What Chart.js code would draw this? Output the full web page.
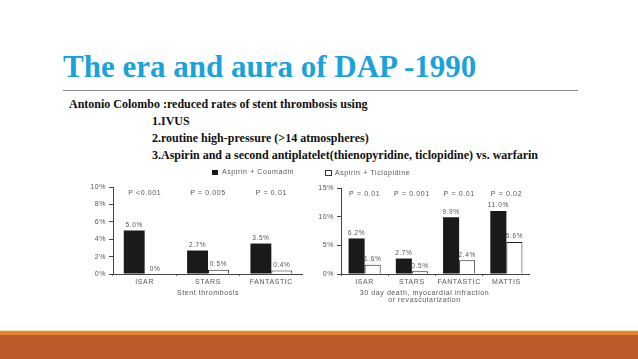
<!DOCTYPE html>
<html>
<head>
<meta charset="utf-8">
<script src="https://cdn.jsdelivr.net/npm/chart.js@4.4.1/dist/chart.umd.min.js"></script>
<style>
  body { margin: 0; width: 638px; height: 359px; background: #fff; position: relative; overflow: hidden; }
  .abs { position: absolute; white-space: nowrap; }
  #title { left: 63px; top: 51px; font: bold 31px/31px "Liberation Serif", "Times New Roman", serif; color: #1aa2dc; }
  #rule { left: 63px; top: 90px; width: 515px; height: 1px; background: #8a8a8a; }
  .sub { font: bold 12px/17px "Liberation Serif", "Times New Roman", serif; color: #111; }
  canvas { position: absolute; }
</style>
</head>
<body>
<div id="title" class="abs">The era and aura of DAP -1990</div>
<div id="rule" class="abs"></div>
<div class="abs sub" style="left:69px; top:96px;">Antonio Colombo :reduced rates of stent thrombosis using</div>
<div class="abs sub" style="left:152px; top:113px;">1.IVUS</div>
<div class="abs sub" style="left:152px; top:130px;">2.routine high-pressure (&gt;14 atmospheres)</div>
<div class="abs sub" style="left:152px; top:147px;">3.Aspirin and a second antiplatelet(thienopyridine, ticlopidine) vs. warfarin</div>

<canvas id="leftChart" width="220" height="140" style="left:83px; top:165px;"></canvas>
<canvas id="rightChart" width="219" height="140" style="left:311px; top:165px;"></canvas>

<!-- bottom band -->
<div class="abs" style="left:0; top:330px; width:638px; height:1px; background:#f3e3b5;"></div>
<div class="abs" style="left:0; top:331px; width:638px; height:4px; background:#e5852c;"></div>
<div class="abs" style="left:0; top:335px; width:638px; height:24px; background:#bf5a2b;"></div>

<script>
/*************** data ***************/
const leftCategories = ["ISAR", "STARS", "FANTASTIC"];
const leftCoumadin = [5.0, 2.7, 3.5];
const leftTiclopidine = [0, 0.5, 0.4];
const leftPValues = ["P <0.001", "P = 0.005", "P = 0.01"];
const leftTicks = [0, 2, 4, 6, 8, 10];
const leftTitle = ["Stent thrombosis"];

const rightCategories = ["ISAR", "STARS", "FANTASTIC", "MATTIS"];
const rightCoumadin = [6.2, 2.7, 9.9, 11.0];
const rightTiclopidine = [1.6, 0.5, 2.4, 5.6];
const rightPValues = ["P = 0.01", "P = 0.001", "P = 0.01", "P = 0.02"];
const rightTicks = [0, 5, 10, 15];
const rightTitle = ["30 day death, myocardial infraction", "or revascularization"];

const FAMILY = '"Liberation Sans", Arial, sans-serif';
const GREY = "#555";

/*************** labels plugin ***************/
const annotate = {
  id: "annotate",
  beforeDraw(chart) {
    chart.ctx.letterSpacing = "0.6px";
  },
  afterDraw(chart, args, opts) {
    const ctx = chart.ctx;
    const area = chart.chartArea;
    const xs = chart.scales.x;
    ctx.save();
    ctx.fillStyle = GREY;
    ctx.textAlign = "center";

    // value labels on top of the bars
    ctx.textBaseline = "bottom";
    ctx.font = "6.5px " + FAMILY;
    chart.data.datasets.forEach((ds, di) => {
      chart.getDatasetMeta(di).data.forEach((bar, i) => {
        const v = ds.data[i];
        ctx.fillText(v === 0 ? "0%" : v.toFixed(1) + "%", bar.x, bar.y - 2);
      });
    });

    // p values over each group
    ctx.font = "7px " + FAMILY;
    ctx.textBaseline = "middle";
    opts.pValues.forEach((p, i) => {
      ctx.fillText(p, xs.getPixelForValue(i), area.top + 6);
    });

    // axis title under the categories
    const mid = (area.left + area.right) / 2 + opts.titleShift;
    opts.title.forEach((line, i) => {
      ctx.fillText(line, mid, area.bottom + 19 + i * 7);
    });

    // legend entry for this chart
    const lg = opts.legend;
    ctx.textAlign = "left";
    ctx.fillText(lg.text, lg.x + 10, area.top - 15);
    if (lg.filled) {
      ctx.fillStyle = "#1a1a1a";
      ctx.fillRect(lg.x, area.top - 17, 6, 5);
    } else {
      ctx.strokeStyle = "#333";
      ctx.lineWidth = 1;
      ctx.strokeRect(lg.x + 0.5, area.top - 17.5, 6, 5);
    }
    ctx.restore();
  }
};

function makeChart(id, cats, coum, ticl, pvals, ticks, pct, padTop, title, titleShift, legend) {
  return new Chart(document.getElementById(id), {
    type: "bar",
    data: {
      labels: cats,
      datasets: [
        {
          label: "Aspirin + Coumadin",
          data: coum,
          backgroundColor: "#1a1a1a",
          borderWidth: 0,
          categoryPercentage: pct,
          barPercentage: 1
        },
        {
          label: "Aspirin + Ticlopidine",
          data: ticl,
          backgroundColor: "#fff",
          borderColor: "#222",
          borderWidth: 1,
          categoryPercentage: pct,
          barPercentage: 1
        }
      ]
    },
    options: {
      responsive: false,
      animation: false,
      devicePixelRatio: 1,
      layout: { padding: { top: padTop, left: 0, right: 0, bottom: 0 } },
      scales: {
        x: {
          grid: { display: true, drawOnChartArea: false, drawTicks: true, tickLength: 2, color: "#666" },
          border: { display: true, color: "#444", width: 1 },
          ticks: { color: GREY, font: { size: 7, family: FAMILY }, padding: 2, maxRotation: 0 },
          afterFit: s => { s.height = 31; }
        },
        y: {
          min: ticks[0],
          max: ticks[ticks.length - 1],
          afterBuildTicks: s => { s.ticks = ticks.map(v => ({ value: v })); },
          ticks: { color: GREY, font: { size: 7, family: FAMILY }, padding: 3, callback: v => v + "%" },
          grid: { drawOnChartArea: false, drawTicks: true, tickLength: 4, color: "#444" },
          border: { display: true, color: "#444", width: 1 },
          afterFit: s => { s.width = 30; }
        }
      },
      plugins: {
        legend: { display: false },
        tooltip: { enabled: false },
        annotate: { pValues: pvals, title: title, titleShift: titleShift, legend: legend }
      }
    },
    plugins: [annotate]
  });
}

makeChart("leftChart", leftCategories, leftCoumadin, leftTiclopidine, leftPValues, leftTicks, 0.66, 22,
  leftTitle, 0, { text: "Aspirin + Coumadin", x: 129, filled: true });
makeChart("rightChart", rightCategories, rightCoumadin, rightTiclopidine, rightPValues, rightTicks, 0.68, 23,
  rightTitle, -11, { text: "Aspirin + Ticlopidine", x: 14, filled: false });
</script>
</body>
</html>
